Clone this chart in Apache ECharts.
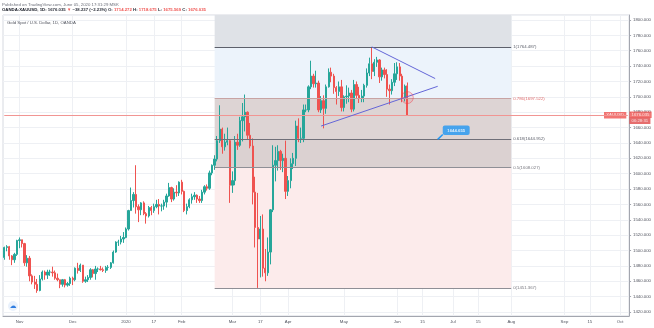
<!DOCTYPE html>
<html>
<head>
<meta charset="utf-8">
<script src="https://cdn.jsdelivr.net/npm/echarts@6/dist/echarts.min.js"></script>
<style>
  html, body { margin: 0; padding: 0; background: #ffffff; }
  #chart { width: 654px; height: 328px; }
</style>
</head>
<body>
<div id="chart"></div>
<script>
const FONT = '"Liberation Sans", Arial, sans-serif';
const FS = 4.3;
const UP = '#26a69a';
const DOWN = '#ef5350';

// Daily bars: date, open, high, low, close
const bars = [
  ['2019-10-24', 1491, 1505, 1488, 1504], ['2019-10-25', 1504, 1507, 1499, 1505],
  ['2019-10-28', 1505, 1506, 1488, 1493], ['2019-10-29', 1493, 1494, 1481, 1488],
  ['2019-10-30', 1488, 1497, 1484, 1495], ['2019-10-31', 1495, 1514, 1493, 1513],
  ['2019-11-01', 1513, 1517, 1503, 1514], ['2019-11-04', 1514, 1514, 1504, 1509],
  ['2019-11-05', 1509, 1510, 1480, 1484], ['2019-11-06', 1484, 1494, 1479, 1490],
  ['2019-11-07', 1490, 1493, 1460, 1467], ['2019-11-08', 1467, 1469, 1456, 1459],
  ['2019-11-11', 1459, 1467, 1450, 1456], ['2019-11-12', 1456, 1463, 1445, 1448],
  ['2019-11-13', 1448, 1468, 1447, 1463], ['2019-11-14', 1463, 1474, 1461, 1472],
  ['2019-11-15', 1472, 1474, 1462, 1468], ['2019-11-18', 1468, 1475, 1463, 1472],
  ['2019-11-19', 1472, 1475, 1467, 1472], ['2019-11-20', 1472, 1479, 1466, 1471],
  ['2019-11-21', 1471, 1474, 1462, 1464], ['2019-11-22', 1464, 1470, 1460, 1462],
  ['2019-11-25', 1462, 1462, 1451, 1456], ['2019-11-26', 1456, 1463, 1453, 1462],
  ['2019-11-27', 1462, 1463, 1452, 1455], ['2019-11-28', 1455, 1459, 1453, 1457],
  ['2019-11-29', 1457, 1466, 1454, 1464], ['2019-12-02', 1464, 1466, 1455, 1462],
  ['2019-12-03', 1462, 1478, 1460, 1477], ['2019-12-04', 1477, 1484, 1470, 1474],
  ['2019-12-05', 1474, 1483, 1472, 1481], ['2019-12-06', 1481, 1481, 1458, 1460],
  ['2019-12-09', 1460, 1466, 1458, 1462], ['2019-12-10', 1462, 1468, 1459, 1465],
  ['2019-12-11', 1465, 1477, 1462, 1475], ['2019-12-12', 1475, 1476, 1465, 1470],
  ['2019-12-13', 1470, 1480, 1462, 1476], ['2019-12-16', 1476, 1478, 1472, 1476],
  ['2019-12-17', 1476, 1480, 1474, 1475], ['2019-12-18', 1475, 1478, 1472, 1474],
  ['2019-12-19', 1474, 1480, 1471, 1478], ['2019-12-20', 1478, 1481, 1474, 1478],
  ['2019-12-23', 1478, 1485, 1476, 1484], ['2019-12-24', 1484, 1500, 1483, 1498],
  ['2019-12-26', 1498, 1512, 1497, 1511], ['2019-12-27', 1511, 1514, 1506, 1511],
  ['2019-12-30', 1511, 1519, 1508, 1515], ['2019-12-31', 1515, 1524, 1510, 1517],
  ['2020-01-02', 1517, 1530, 1516, 1528], ['2020-01-03', 1528, 1553, 1526, 1552],
  ['2020-01-06', 1552, 1582, 1552, 1565], ['2020-01-07', 1565, 1576, 1556, 1573],
  ['2020-01-08', 1573, 1611, 1548, 1557], ['2020-01-09', 1557, 1560, 1537, 1553],
  ['2020-01-10', 1553, 1563, 1546, 1562], ['2020-01-13', 1562, 1564, 1546, 1548],
  ['2020-01-14', 1548, 1550, 1535, 1545], ['2020-01-15', 1545, 1558, 1543, 1556],
  ['2020-01-16', 1556, 1558, 1546, 1552], ['2020-01-17', 1552, 1561, 1549, 1557],
  ['2020-01-20', 1557, 1566, 1555, 1560], ['2020-01-21', 1560, 1567, 1547, 1558],
  ['2020-01-22', 1558, 1561, 1551, 1558], ['2020-01-23', 1558, 1566, 1553, 1563],
  ['2020-01-24', 1563, 1574, 1556, 1571], ['2020-01-27', 1571, 1588, 1570, 1582],
  ['2020-01-28', 1582, 1583, 1563, 1567], ['2020-01-29', 1567, 1581, 1565, 1576],
  ['2020-01-30', 1576, 1585, 1570, 1575], ['2020-01-31', 1575, 1590, 1571, 1589],
  ['2020-02-03', 1589, 1592, 1573, 1577], ['2020-02-04', 1577, 1578, 1550, 1552],
  ['2020-02-05', 1552, 1561, 1547, 1557], ['2020-02-06', 1557, 1568, 1555, 1566],
  ['2020-02-07', 1566, 1574, 1561, 1570], ['2020-02-10', 1570, 1576, 1566, 1572],
  ['2020-02-11', 1572, 1573, 1562, 1567], ['2020-02-12', 1567, 1571, 1562, 1565],
  ['2020-02-13', 1565, 1579, 1562, 1576], ['2020-02-14', 1576, 1585, 1573, 1583],
  ['2020-02-17', 1583, 1586, 1578, 1581], ['2020-02-18', 1581, 1604, 1579, 1601],
  ['2020-02-19', 1601, 1612, 1598, 1611], ['2020-02-20', 1611, 1624, 1605, 1619],
  ['2020-02-21', 1619, 1649, 1616, 1643], ['2020-02-24', 1643, 1689, 1640, 1658],
  ['2020-02-25', 1658, 1660, 1626, 1635], ['2020-02-26', 1635, 1652, 1630, 1641],
  ['2020-02-27', 1641, 1660, 1637, 1643], ['2020-02-28', 1643, 1645, 1562, 1585],
  ['2020-03-02', 1585, 1603, 1575, 1591], ['2020-03-03', 1591, 1649, 1585, 1641],
  ['2020-03-04', 1641, 1652, 1631, 1637], ['2020-03-05', 1637, 1674, 1635, 1669],
  ['2020-03-06', 1669, 1692, 1642, 1674], ['2020-03-09', 1674, 1703, 1655, 1680],
  ['2020-03-10', 1680, 1681, 1645, 1650], ['2020-03-11', 1650, 1666, 1633, 1636],
  ['2020-03-12', 1636, 1646, 1560, 1576], ['2020-03-13', 1576, 1596, 1504, 1530],
  ['2020-03-16', 1530, 1575, 1451.367, 1515], ['2020-03-17', 1515, 1545, 1465, 1528],
  ['2020-03-18', 1528, 1547, 1466, 1477], ['2020-03-19', 1477, 1502, 1460, 1471],
  ['2020-03-20', 1471, 1517, 1467, 1498], ['2020-03-23', 1498, 1554, 1482, 1553],
  ['2020-03-24', 1553, 1637, 1550, 1611], ['2020-03-25', 1611, 1635, 1590, 1617],
  ['2020-03-26', 1617, 1637, 1604, 1629], ['2020-03-27', 1629, 1631, 1605, 1617],
  ['2020-03-30', 1617, 1626, 1602, 1620], ['2020-03-31', 1620, 1643, 1567, 1577],
  ['2020-04-01', 1577, 1597, 1571, 1591], ['2020-04-02', 1591, 1620, 1581, 1613],
  ['2020-04-03', 1613, 1627, 1606, 1620], ['2020-04-06', 1620, 1669, 1610, 1662],
  ['2020-04-07', 1662, 1672, 1641, 1646], ['2020-04-08', 1646, 1660, 1640, 1646],
  ['2020-04-09', 1646, 1690, 1641, 1683], ['2020-04-10', 1683, 1690, 1680, 1683],
  ['2020-04-13', 1683, 1715, 1680, 1713], ['2020-04-14', 1713, 1747, 1710, 1727],
  ['2020-04-15', 1727, 1730, 1712, 1717], ['2020-04-16', 1717, 1734, 1712, 1718],
  ['2020-04-17', 1718, 1721, 1680, 1683], ['2020-04-20', 1683, 1701, 1679, 1695],
  ['2020-04-21', 1695, 1702, 1659, 1685], ['2020-04-22', 1685, 1716, 1678, 1713],
  ['2020-04-23', 1713, 1737, 1712, 1732], ['2020-04-24', 1732, 1738, 1719, 1727],
  ['2020-04-27', 1727, 1730, 1704, 1712], ['2020-04-28', 1712, 1714, 1690, 1707],
  ['2020-04-29', 1707, 1720, 1701, 1713], ['2020-04-30', 1713, 1722, 1681, 1686],
  ['2020-05-01', 1686, 1702, 1681, 1700], ['2020-05-04', 1700, 1715, 1691, 1701],
  ['2020-05-05', 1701, 1712, 1693, 1705], ['2020-05-06', 1705, 1709, 1680, 1684],
  ['2020-05-07', 1684, 1722, 1681, 1716], ['2020-05-08', 1716, 1720, 1698, 1702],
  ['2020-05-11', 1702, 1713, 1692, 1698], ['2020-05-12', 1698, 1709, 1693, 1701],
  ['2020-05-13', 1701, 1717, 1693, 1715], ['2020-05-14', 1715, 1737, 1712, 1731],
  ['2020-05-15', 1731, 1751, 1727, 1743], ['2020-05-18', 1743, 1764.487, 1723, 1733],
  ['2020-05-19', 1733, 1749, 1727, 1745], ['2020-05-20', 1745, 1752, 1739, 1748],
  ['2020-05-21', 1748, 1749, 1718, 1726], ['2020-05-22', 1726, 1738, 1721, 1735],
  ['2020-05-25', 1735, 1738, 1724, 1729], ['2020-05-26', 1729, 1736, 1700, 1710],
  ['2020-05-27', 1710, 1716, 1690, 1708], ['2020-05-28', 1708, 1723, 1703, 1719],
  ['2020-05-29', 1719, 1744, 1714, 1730], ['2020-06-01', 1730, 1745, 1722, 1739],
  ['2020-06-02', 1739, 1744, 1721, 1727], ['2020-06-03', 1727, 1730, 1693, 1699],
  ['2020-06-04', 1699, 1716, 1694, 1714], ['2020-06-05', 1714.272, 1718.675, 1675.569, 1676.035]
];

// Trading calendar: weekdays, without the two market holidays
const calendarStart = '2019-10-24';
const calendarEnd = '2020-10-06';
const holidays = ['2019-12-25', '2020-01-01'];

// Time-scale labels and the bars they sit on
const timeLabels = {
  '2019-11-01': 'Nov', '2019-12-02': 'Dec', '2020-01-02': '2020', '2020-01-17': '17',
  '2020-02-03': 'Feb', '2020-03-02': 'Mar', '2020-03-17': '17', '2020-04-01': 'Apr',
  '2020-05-01': 'May', '2020-06-01': 'Jun', '2020-06-15': '15', '2020-07-01': 'Jul',
  '2020-07-15': '15', '2020-08-03': 'Aug', '2020-09-01': 'Sep', '2020-09-15': '15',
  '2020-10-01': 'Oct'
};

// Price scale
const priceMin = 1414.8;
const priceMax = 1806.5;

// Fibonacci retracement from the March low to the May high
const fibRatios = [1, 0.786, 0.618, 0.5, 0];
const fibPrices = [1764.487, 1697.522, 1644.952, 1608.027, 1451.367];
const fibLineColors = ['#5d606b', '#c8a3a3', '#6f6f78', '#8f8f96', '#8f8f96'];
const fibLabelColors = ['#5d606b', '#e06c6c', '#5d606b', '#77777f', '#77777f'];
const fibBandColors = ['#dfe2e7', '#ecf3fb', '#ddd4d4', '#dbd1d1', '#fcebeb'];
const fibFrom = '2020-02-20';
const fibTo = '2020-08-03';

// Triangle trendlines: [date, price] end points
const upperTrend = [['2020-05-18', 1765.0], ['2020-06-22', 1723.8]];
const lowerTrend = [['2020-04-20', 1662.0], ['2020-06-23', 1713.7]];

// Marked spot on the last bars and the price tag below them
const ellipseAt = ['2020-06-05', 1699];
const priceTag = ['2020-06-23', 1644.655];
const priceTagArrowTip = ['2020-06-25', 1651];

const lastClose = 1676.035;
const countdown = '06:28:31';

function tradingDays(from, to) {
  const out = [];
  const d = new Date(from + 'T00:00:00Z');
  const end = new Date(to + 'T00:00:00Z');
  while (d <= end) {
    const wd = d.getUTCDay();
    const s = d.toISOString().slice(0, 10);
    if (wd !== 0 && wd !== 6 && holidays.indexOf(s) < 0) out.push(s);
    d.setUTCDate(d.getUTCDate() + 1);
  }
  return out;
}

const categories = tradingDays(calendarStart, calendarEnd);
const firstCat = categories[0];
const lastCat = categories[categories.length - 1];
const barByDate = {};
bars.forEach(b => { barByDate[b[0]] = b; });
// ECharts candlestick order: open, close, low, high
const candleData = categories.map(d => {
  const b = barByDate[d];
  return b ? [b[1], b[4], b[3], b[2]] : '-';
});

const showTimeLabel = (idx, value) => timeLabels[value] !== undefined;

// Fibonacci bands: above level 1 up to the top of the scale, then between levels
const bandEdges = [priceMax].concat(fibPrices);
const fibBandData = fibBandColors.map((c, i) => [
  { xAxis: fibFrom, yAxis: bandEdges[i + 1], itemStyle: { color: c } },
  { xAxis: fibTo, yAxis: bandEdges[i] }
]);

const fibLineData = fibRatios.map((r, i) => [
  {
    coord: [fibFrom, fibPrices[i]],
    lineStyle: { color: fibLineColors[i], width: 1, type: 'solid' },
    label: {
      show: true, position: 'end', distance: 2,
      formatter: r + '(' + fibPrices[i].toFixed(3) + ')',
      color: fibLabelColors[i], fontSize: FS, fontFamily: FONT
    }
  },
  { coord: [fibTo, fibPrices[i]] }
]);

const tagLabel = (text, position, offset, bg) => ({
  show: true, position: position, distance: 1.5, offset: offset,
  formatter: text, color: '#ffffff', fontSize: FS, fontFamily: FONT,
  backgroundColor: bg, padding: [1.5, 2.2, 1, 2.2]
});

const chart = echarts.init(document.getElementById('chart'), null, { renderer: 'canvas' });

chart.setOption({
  animation: false,
  backgroundColor: '#ffffff',
  textStyle: { fontFamily: FONT },
  title: [
    {
      text: 'Published on TradingView.com, June 05, 2020 17:31:29 MSK',
      left: 2, top: 2.5, padding: 0,
      textStyle: { fontSize: FS, fontWeight: 'normal', color: '#6a6d78', fontFamily: FONT }
    },
    {
      text: '{b|OANDA:XAUUSD, 1D:} {d|1676.035} {r|▼} {d|−38.237 (−2.23%)} {d|O:} {r|1714.272} {d|H:} {r|1718.675} {d|L:} {r|1675.569} {d|C:} {r|1676.035}',
      left: 2, top: 8, padding: 0,
      textStyle: {
        fontSize: FS, fontFamily: FONT,
        rich: {
          b: { fontSize: FS, fontWeight: 'bold', color: '#131722', fontFamily: FONT },
          d: { fontSize: FS, fontWeight: 'bold', color: '#2a2e39', fontFamily: FONT },
          r: { fontSize: FS, color: '#ef5350', fontFamily: FONT }
        }
      }
    },
    {
      text: 'Gold Spot / U.S. Dollar, 1D, OANDA',
      left: 7, top: 21, padding: 0,
      textStyle: { fontSize: FS, fontWeight: 'normal', color: '#50535e', fontFamily: FONT }
    }
  ],
  grid: {
    left: 3, right: 24, top: 15, bottom: 12,
    show: true, borderColor: '#d6d9e0', borderWidth: 1, backgroundColor: 'transparent'
  },
  xAxis: {
    type: 'category',
    data: categories,
    boundaryGap: true,
    axisLine: { show: true, lineStyle: { color: '#a3a6af', width: 1 } },
    axisTick: { show: false, alignWithLabel: true },
    axisLabel: {
      interval: showTimeLabel,
      formatter: v => timeLabels[v],
      fontSize: FS, color: '#50535e', margin: 3.5, fontFamily: FONT
    },
    splitLine: {
      show: true, interval: showTimeLabel, alignWithLabel: true,
      lineStyle: { color: '#eef0f4', width: 1 }
    }
  },
  yAxis: {
    type: 'value',
    position: 'right',
    min: priceMin,
    max: priceMax,
    splitNumber: 20,
    scale: true,
    axisLine: { show: true, lineStyle: { color: '#a3a6af', width: 1 } },
    axisTick: { show: true, length: 2, lineStyle: { color: '#a3a6af' } },
    axisLabel: {
      showMinLabel: false, showMaxLabel: false,
      formatter: v => v.toFixed(3),
      fontSize: FS, color: '#50535e', margin: 4, fontFamily: FONT
    },
    splitLine: { show: true, lineStyle: { color: '#eef0f4', width: 1 } }
  },
  series: [
    {
      // Fibonacci retracement background
      type: 'scatter',
      data: [],
      z: 1,
      silent: true,
      markArea: { silent: true, data: fibBandData },
      markLine: { silent: true, symbol: 'none', data: fibLineData }
    },
    {
      type: 'candlestick',
      name: 'XAUUSD',
      data: candleData,
      z: 3,
      barWidth: 1.8,
      itemStyle: {
        color: UP, color0: DOWN,
        borderColor: UP, borderColor0: DOWN,
        borderWidth: 1
      }
    },
    {
      // Last price line with its tags on the price scale
      type: 'scatter',
      z: 4,
      silent: true,
      symbolSize: 0,
      data: [
        { value: [lastCat, lastClose], label: tagLabel('XAUUSD', 'left', [0, 0], '#ef5350') },
        { value: [lastCat, lastClose], label: tagLabel(lastClose.toFixed(3), 'right', [0, -0.5], '#ef5350') },
        { value: [lastCat, lastClose], label: tagLabel(countdown, 'right', [0, 5.5], '#e04a4a') }
      ],
      markLine: {
        silent: true,
        symbol: 'none',
        label: { show: false },
        data: [
          [
            { coord: [firstCat, lastClose], lineStyle: { color: '#f19593', width: 1, type: 'solid' } },
            { coord: [lastCat, lastClose] }
          ]
        ]
      }
    },
    {
      // Drawings: triangle, ellipse and price tag
      type: 'scatter',
      z: 5,
      silent: true,
      data: [
        {
          value: ellipseAt,
          symbol: 'circle',
          symbolSize: 12,
          itemStyle: { color: 'rgba(242,54,69,0.14)', borderColor: 'rgba(242,54,69,0.55)', borderWidth: 1 }
        },
        {
          value: priceTag,
          symbolSize: 0,
          label: {
            show: true, position: 'inside', offset: [18.5, -9],
            formatter: priceTag[1].toFixed(3),
            color: '#ffffff', fontWeight: 'bold', fontSize: FS, fontFamily: FONT,
            backgroundColor: '#2196f3', borderRadius: 2, padding: [3, 4.5, 2.5, 4.5]
          }
        }
      ],
      markLine: {
        silent: true,
        symbol: 'none',
        label: { show: false },
        data: [
          [
            { coord: upperTrend[0], lineStyle: { color: '#6466d8', width: 1, type: 'solid' } },
            { coord: upperTrend[1] }
          ],
          [
            { coord: lowerTrend[0], lineStyle: { color: '#6466d8', width: 1, type: 'solid' } },
            { coord: lowerTrend[1] }
          ],
          [
            { coord: priceTag, lineStyle: { color: '#2196f3', width: 1.5, type: 'solid' } },
            { coord: priceTagArrowTip }
          ]
        ]
      }
    }
  ],
  graphic: [
    {
      type: 'group', left: 8, top: 301,
      children: [
        { type: 'circle', shape: { cx: 5, cy: 5, r: 5 }, style: { fill: '#e9f1fc' } },
        {
          type: 'text', style: {
            text: '☁', x: 5, y: 5.5, fontSize: 7, fill: '#2f7de1',
            align: 'center', verticalAlign: 'middle', fontFamily: '"DejaVu Sans"'
          }
        }
      ]
    }
  ]
});
</script>
</body>
</html>
